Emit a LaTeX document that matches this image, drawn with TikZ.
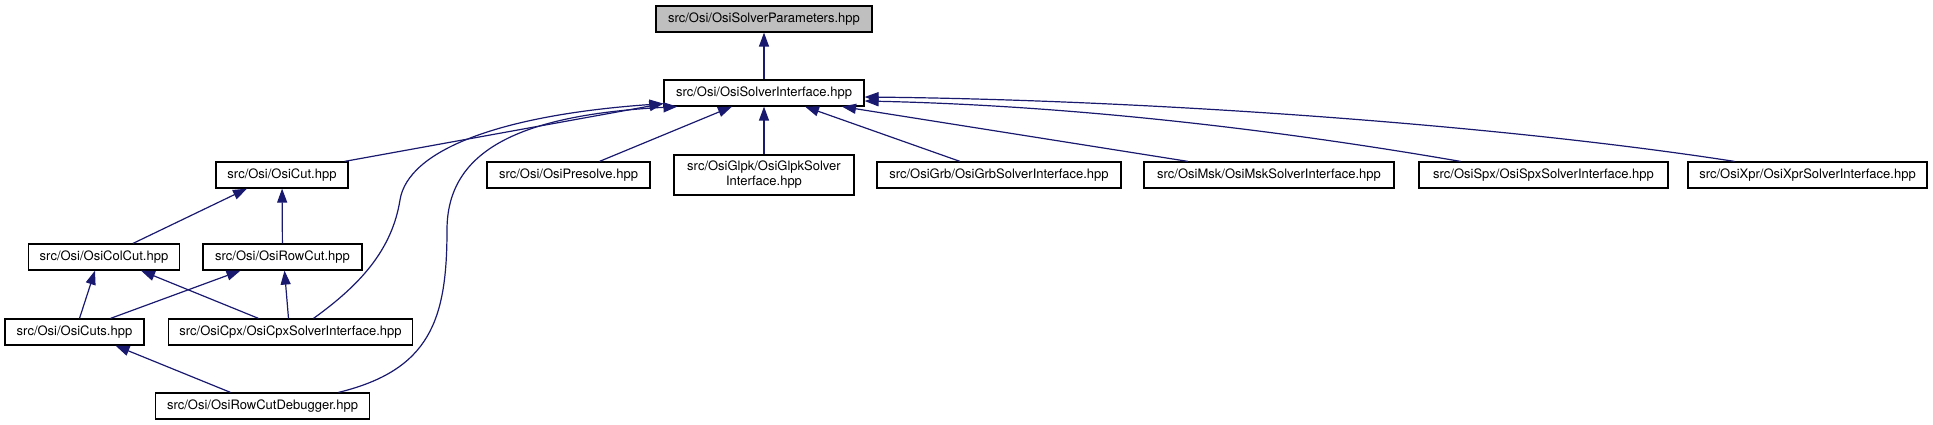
\documentclass[tikz,border=0pt]{standalone}
\usepackage{fontspec}
\setmainfont{TeX Gyre Heros}
\usepackage{tikz}
\usetikzlibrary{arrows.meta}
\definecolor{edgeblue}{RGB}{25,25,112}
\definecolor{rootgray}{RGB}{191,191,191}

\begin{document}
\begin{tikzpicture}[x=1pt, y=-1pt,
    file/.style={draw, line width=1.2pt, inner xsep=0pt, inner ysep=0pt,
      minimum height=26pt, font=\fontsize{13}{15}\selectfont, align=center},
    dep/.style={draw=edgeblue, line width=1.2pt,
      -{Triangle[length=14pt, width=10pt]}}]
  \useasboundingbox (0,0) rectangle (1933,425);

  % Top files
  \node[file, fill=rootgray, minimum width=216pt] (params) at (764,19) {src/Osi/OsiSolverParameters.hpp};
  \node[file, minimum width=200pt] (iface) at (764,93) {src/Osi/OsiSolverInterface.hpp};

  % Second row
  \node[file, minimum width=132pt] (cut) at (282,175) {src/Osi/OsiCut.hpp};
  \node[file, minimum width=163pt] (presolve) at (568.5,175) {src/Osi/OsiPresolve.hpp};
  \node[file, minimum width=180pt, minimum height=40pt] (glpk) at (764,175) {src/OsiGlpk/OsiGlpkSolver\\Interface.hpp};
  \node[file, minimum width=244pt] (grb) at (999,175) {src/OsiGrb/OsiGrbSolverInterface.hpp};
  \node[file, minimum width=250pt] (msk) at (1269,175) {src/OsiMsk/OsiMskSolverInterface.hpp};
  \node[file, minimum width=249pt] (spx) at (1543.5,175) {src/OsiSpx/OsiSpxSolverInterface.hpp};
  \node[file, minimum width=239pt] (xpr) at (1807.5,175) {src/OsiXpr/OsiXprSolverInterface.hpp};

  % Lower rows
  \node[file, minimum width=151pt] (colcut) at (104,257) {src/Osi/OsiColCut.hpp};
  \node[file, minimum width=159pt] (rowcut) at (282.5,257) {src/Osi/OsiRowCut.hpp};
  \node[file, minimum width=139pt] (cuts) at (74.5,332) {src/Osi/OsiCuts.hpp};
  \node[file, minimum width=244pt] (cpx) at (290.5,332) {src/OsiCpx/OsiCpxSolverInterface.hpp};
  \node[file, minimum width=214pt] (debugger) at (262.5,406) {src/Osi/OsiRowCutDebugger.hpp};

  % Includes of the parameters
  \draw[dep] (iface) -- (params);

  % Includes of the interface
  \draw[dep] ([xshift=-4pt]cut.north east) -- ([yshift=3pt]iface.south west);
  \draw[dep] ([xshift=23pt]cpx.north) .. controls (360,285) and (392,250) .. (400,200)
    .. controls (408,150) and (500,115) .. ([yshift=3pt]iface.south west);
  \draw[dep] ([xshift=76pt]debugger.north) .. controls (430,370) and (447,320) .. (447,230)
    .. controls (447,150) and (520,115) .. ([xshift=14pt]iface.south west);
  \draw[dep] ([xshift=31pt]presolve.north) -- ([xshift=-32pt]iface.south);
  \draw[dep] (glpk) -- (iface);
  \draw[dep] ([xshift=-39pt]grb.north) -- ([xshift=41pt]iface.south);
  \draw[dep] ([xshift=-81pt]msk.north) -- ([xshift=78pt]iface.south);
  \draw[dep] ([xshift=-83pt]spx.north) .. controls (1250,125) and (1050,105) .. ([yshift=-8pt]iface.east);
  \draw[dep] ([xshift=-73pt]xpr.north) .. controls (1500,125) and (1150,100) .. ([yshift=-4pt]iface.east);

  % Includes of the cut classes
  \draw[dep] ([xshift=29pt]colcut.north) -- ([xshift=-35pt]cut.south);
  \draw[dep] (rowcut) -- (cut);
  \draw[dep] ([xshift=5pt]cuts.north) -- ([xshift=-9pt]colcut.south);
  \draw[dep] ([xshift=-32pt]cpx.north) -- ([xshift=37pt]colcut.south);
  \draw[dep] ([xshift=36pt]cuts.north) -- ([xshift=-42pt]rowcut.south);
  \draw[dep] ([xshift=-2pt]cpx.north) -- ([xshift=2pt]rowcut.south);
  \draw[dep] ([xshift=-32pt]debugger.north) -- ([xshift=41pt]cuts.south);
\end{tikzpicture}
\end{document}
